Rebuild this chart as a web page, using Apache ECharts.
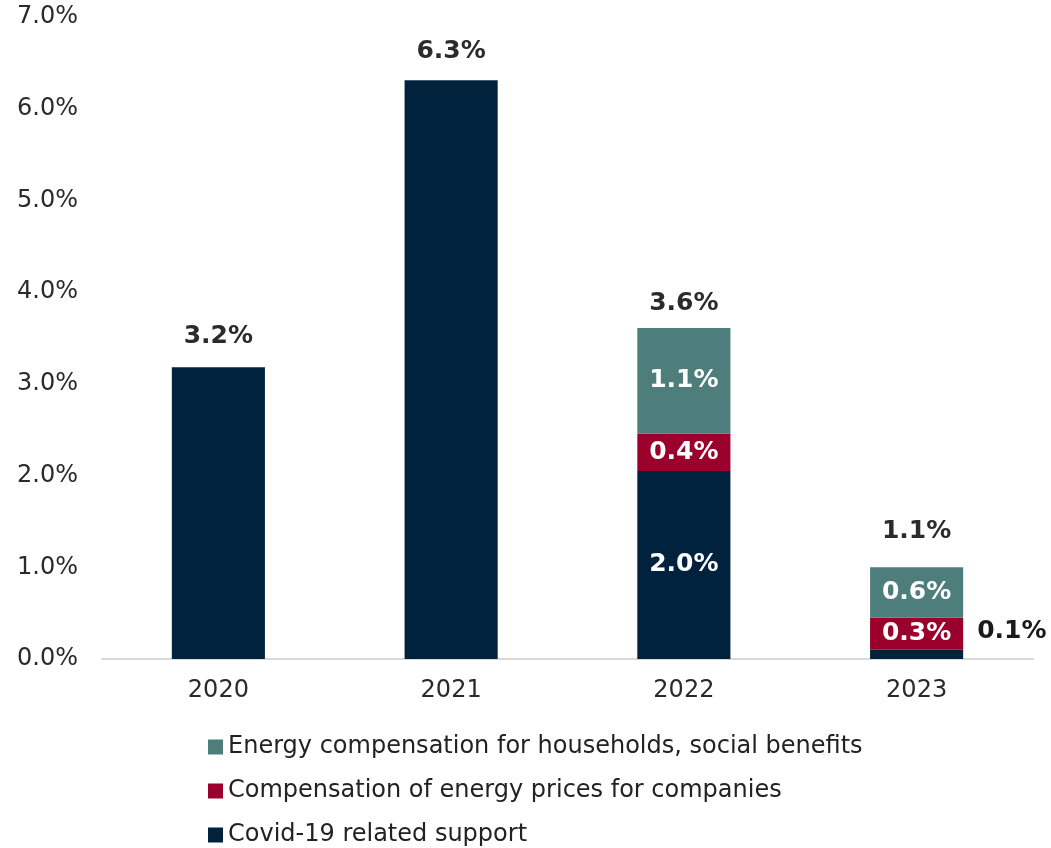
<!DOCTYPE html>
<html><head><meta charset="utf-8">
<script src="https://cdn.jsdelivr.net/npm/echarts@6/dist/echarts.min.js"></script>
<style>html,body{margin:0;padding:0;background:#fff}#c{width:1051px;height:848px}</style>
</head><body><div id="c"></div>
<script>
const categories = ['2020', '2021', '2022', '2023'];
const covid = [3.18, 6.31, 2.05, 0.1];
const companies = [null, null, 0.41, 0.35];
const households = [null, null, 1.15, 0.55];
const covidLabels = ['', '', '2.0%', '0.1%'];
const companiesLabels = ['', '', '0.4%', '0.3%'];
const householdsLabels = ['', '', '1.1%', '0.6%'];
const totalLabels = ['3.2%', '6.3%', '3.6%', '1.1%'];
const yTicks = [0, 1, 2, 3, 4, 5, 6, 7];

const names = ['Covid-19 related support', 'Compensation of energy prices for companies', 'Energy compensation for households, social benefits'];
const colors = ['#00223c', '#9a002b', '#4d7e7b'];
const totalDistance = [18, 16, 12, 23];
const FONT = 'DejaVu Sans';

const inner = (labels) => ({
  show: true, position: 'inside', color: '#fff', fontFamily: FONT, fontWeight: 'bold', fontSize: 25,
  formatter: p => labels[p.dataIndex]
});

const chart = echarts.init(document.getElementById('c'));
chart.setOption({
  animation: false,
  grid: { left: 102, right: 18, top: 17, bottom: 189 },
  legend: {
    orient: 'vertical', left: 208, top: 735, height: 113, padding: 0, itemGap: 20, itemWidth: 15, itemHeight: 15,
    icon: 'rect',
    data: [names[2], names[1], names[0]],
    textStyle: { fontFamily: FONT, fontSize: 24, color: '#222' }
  },
  xAxis: {
    type: 'category', data: categories,
    axisLine: { lineStyle: { color: '#d9d9d9', width: 2 } },
    axisTick: { show: false },
    axisLabel: { fontFamily: FONT, fontSize: 24, color: '#2a2a2a', margin: 20 }
  },
  yAxis: {
    type: 'value', min: yTicks[0], max: yTicks[yTicks.length - 1], interval: 1,
    splitLine: { show: false },
    axisLabel: { fontFamily: FONT, fontSize: 24, color: '#2a2a2a', margin: 24, formatter: v => v.toFixed(1) + '%' }
  },
  series: [
    { name: names[0], type: 'bar', stack: 'a', barWidth: '40%',
      data: covid.map((v, i) => i === 3 ? { value: v, label: { color: '#1a1a1a' } } : v),
      itemStyle: { color: colors[0] },
      label: inner(covidLabels),
      labelLayout: function (p) {
        if (p.dataIndex === 3) {
          return { x: p.rect.x + p.rect.width + 14, y: p.rect.y - 18, align: 'left', verticalAlign: 'middle' };
        }
      }
    },
    { name: names[1], type: 'bar', stack: 'a', data: companies, itemStyle: { color: colors[1] }, label: inner(companiesLabels) },
    { name: names[2], type: 'bar', stack: 'a', data: households, itemStyle: { color: colors[2] }, label: inner(householdsLabels) },
    { name: 'total', type: 'bar', stack: 'a',
      data: categories.map((c, i) => ({ value: 0, label: { distance: totalDistance[i] } })),
      itemStyle: { color: 'transparent' },
      label: { show: true, position: 'top', fontFamily: FONT, fontWeight: 'bold', fontSize: 25, color: '#2b2b2b',
        formatter: p => totalLabels[p.dataIndex] } }
  ]
});
</script></body></html>
